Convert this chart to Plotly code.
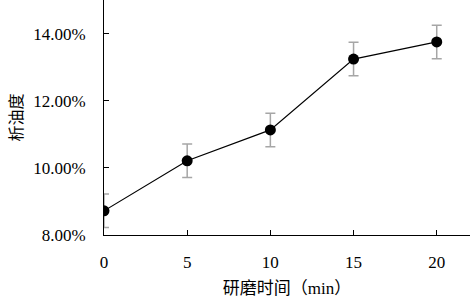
import plotly.graph_objects as go

times = [0, 5, 10, 15, 20]
oil = [8.72, 10.21, 11.13, 13.24, 13.75]
err = [0.5, 0.5, 0.5, 0.5, 0.5]
y_ticks = [8, 10, 12, 14]
y_labels = ["8.00%", "10.00%", "12.00%", "14.00%"]
x_ticks = [0, 5, 10, 15, 20]

font_fam = "Liberation Serif, Noto Sans CJK SC"

fig = go.Figure(go.Scatter(
    x=times, y=oil, mode="lines+markers",
    line=dict(color="black", width=1.2),
    marker=dict(color="black", size=11),
    error_y=dict(type="data", array=err, visible=True, color="#a6a6a6", thickness=1.5, width=5),
    showlegend=False,
))

fig.update_layout(
    width=472, height=298,
    margin=dict(l=104, r=2, t=0, b=63),
    paper_bgcolor="white", plot_bgcolor="white",
    font=dict(family=font_fam, size=17, color="black"),
    xaxis=dict(range=[0, 22], tickvals=x_ticks, ticks="inside", ticklen=5, tickcolor="black",
               showline=True, linecolor="black", linewidth=1, showgrid=False, zeroline=False,
               title=dict(text="研磨时间（min）", font=dict(size=17), standoff=12),
               ticklabelstandoff=12),
    yaxis=dict(range=[8, 15], tickvals=y_ticks, ticktext=y_labels, ticks="inside", ticklen=5,
               tickcolor="black", showline=True, linecolor="black", linewidth=1, showgrid=False,
               zeroline=False, title=dict(text="析油度", font=dict(size=16), standoff=6),
               ticklabelstandoff=14),
)

fig.write_html("out.html", config={"displayModeBar": False},
               post_script="document.body.style.margin='0';document.body.style.padding='0';")
